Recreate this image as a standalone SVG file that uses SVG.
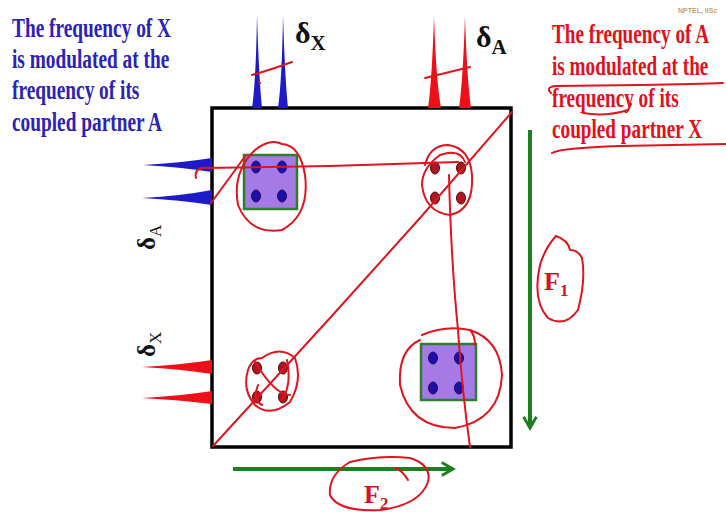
<svg xmlns="http://www.w3.org/2000/svg" width="726" height="512" viewBox="0 0 726 512">
<style>
.bt{font-family:"Liberation Serif",serif;font-weight:bold;font-size:27px;fill:#2b22b8}
.rt{font-family:"Liberation Serif",serif;font-weight:bold;font-size:27px;fill:#e3101c}
.lab{font-family:"Liberation Serif",serif;font-weight:bold;fill:#111}
.sub{font-weight:normal}
.flab{font-family:"Liberation Serif",serif;font-weight:bold;fill:#d8101c}
.ink{fill:none;stroke:#e0141e;stroke-width:2;stroke-linecap:round;stroke-linejoin:round}
.box{fill:#a57ae6;stroke:#2f7d2f;stroke-width:2.5}
.bdot{fill:#1d10a8;stroke:#2a0a60;stroke-width:1}
.rdot{fill:#b0141e;stroke:#4a0a0a;stroke-width:1}
.grn{stroke:#1e7f1e;stroke-width:4;fill:none}
</style>
<defs>
<marker id="ah" viewBox="0 0 10 10" refX="8" refY="5" markerWidth="4" markerHeight="4" orient="auto" markerUnits="strokeWidth">
<path d="M1 1 L8 5 L1 9" fill="none" stroke="#1e7f1e" stroke-width="1.8"/>
</marker>
</defs>
<rect width="726" height="512" fill="#ffffff"/>

<g id="text-left" transform="translate(12 0) scale(0.716 1)">
<text class="bt" x="0" y="37">The frequency of X</text>
<text class="bt" x="0" y="68">is modulated at the</text>
<text class="bt" x="0" y="99">frequency of its</text>
<text class="bt" x="0" y="131">coupled partner A</text>
</g>
<g id="text-right" transform="translate(552 0) scale(0.712 1)">
<text class="rt" x="0" y="43">The frequency of A</text>
<text class="rt" x="0" y="75">is modulated at the</text>
<text class="rt" x="0" y="107">frequency of its</text>
<text class="rt" x="0" y="138">coupled partner X</text>
</g>
<g id="logo">
<text x="678" y="13" font-family="Liberation Sans,sans-serif" font-size="7" font-weight="bold" fill="#c8a060">NPTEL, IISc</text>
</g>

<g id="spectrum-box">
<rect x="212" y="108" width="299" height="339" fill="none" stroke="#000" stroke-width="3.5"/>
</g>

<g id="top-peaks">
<path d="M252 108 Q256 80 257 15 Q259 80 262 108 Z" fill="#1d1ac8"/>
<path d="M278 108 Q282 80 283 15 Q285 80 288 108 Z" fill="#1d1ac8"/>
<path d="M428 108 Q432 80 434 16 Q436 80 441 108 Z" fill="#ee1018"/>
<path d="M459 108 Q463 80 465 16 Q467 80 471 108 Z" fill="#ee1018"/>
<text class="lab" x="295" y="43" font-size="30">δ<tspan font-size="21" dy="7">X</tspan></text>
<text class="lab" x="476" y="47" font-size="30">δ<tspan font-size="21" dy="7">A</tspan></text>
</g>

<g id="left-peaks">
<path d="M212 158 Q180 163 143 165 Q180 167 212 172 Z" fill="#1d1ac8"/>
<path d="M212 190 Q180 196 142 198 Q180 200 212 205 Z" fill="#1d1ac8"/>
<path d="M212 360 Q180 365 142 367 Q180 369 212 374 Z" fill="#ee1018"/>
<path d="M212 391 Q180 396 142 398 Q180 400 212 404 Z" fill="#ee1018"/>
<text class="lab" font-size="25" transform="translate(155 250) rotate(-90)">δ<tspan class="sub" font-size="17" dy="6">A</tspan></text>
<text class="lab" font-size="25" transform="translate(155 357) rotate(-90)">δ<tspan class="sub" font-size="17" dy="6">X</tspan></text>
</g>

<g id="cross-peak-top-left">
<rect class="box" x="244" y="155" width="53" height="54"/>
<ellipse class="bdot" cx="256" cy="167" rx="4.5" ry="6"/>
<ellipse class="bdot" cx="282" cy="167" rx="4.5" ry="6"/>
<ellipse class="bdot" cx="256" cy="196" rx="4.5" ry="6"/>
<ellipse class="bdot" cx="282" cy="196" rx="4.5" ry="6"/>
</g>
<g id="cross-peak-bottom-right">
<rect class="box" x="421" y="344" width="55" height="56"/>
<ellipse class="bdot" cx="433" cy="358" rx="4.5" ry="6"/>
<ellipse class="bdot" cx="459" cy="358" rx="4.5" ry="6"/>
<ellipse class="bdot" cx="433" cy="388" rx="4.5" ry="6"/>
<ellipse class="bdot" cx="459" cy="388" rx="4.5" ry="6"/>
</g>
<g id="diag-peak-top-right">
<ellipse class="rdot" cx="435" cy="168" rx="4.5" ry="6"/>
<ellipse class="rdot" cx="461" cy="168" rx="4.5" ry="6"/>
<ellipse class="rdot" cx="435" cy="198" rx="4.5" ry="6"/>
<ellipse class="rdot" cx="461" cy="198" rx="4.5" ry="6"/>
</g>
<g id="diag-peak-bottom-left">
<ellipse class="rdot" cx="257" cy="368" rx="4.5" ry="6"/>
<ellipse class="rdot" cx="283" cy="368" rx="4.5" ry="6"/>
<ellipse class="rdot" cx="257" cy="397" rx="4.5" ry="6"/>
<ellipse class="rdot" cx="283" cy="397" rx="4.5" ry="6"/>
</g>

<g id="connectors">
<line class="grn" x1="530" y1="130" x2="530" y2="428" marker-end="url(#ah)"/>
<line class="grn" x1="233" y1="469" x2="453" y2="469" marker-end="url(#ah)"/>
<text class="flab" x="544" y="290" font-size="26">F<tspan font-size="17" dy="6">1</tspan></text>
<text class="flab" x="364" y="503" font-size="26">F<tspan font-size="17" dy="6">2</tspan></text>
</g>

<g id="annotations">
<path class="ink" d="M213 446 L330 318 L420 218 L512 112" stroke-width="2.5"/>
<path class="ink" d="M196 178 Q194 170 202 168 L330 166 L458 162"/>
<path class="ink" d="M211 203 Q228 180 246 155"/>
<path class="ink" d="M255 150 Q270 138 282 144 Q300 145 305 175 Q310 215 282 230 Q250 235 238 205 Q232 172 255 150"/>
<path class="ink" d="M425 165 Q430 145 448 145 Q470 148 472 175 Q474 210 450 215 Q425 212 422 185 Q422 168 440 155 Q460 148 465 162"/>
<path class="ink" d="M449 175 Q451 260 458 330 Q462 390 470 447"/>
<path class="ink" d="M422 335 Q445 325 470 330 Q500 340 502 375 Q500 420 455 428 Q410 428 400 385 Q398 350 420 340 M470 330 Q475 335 475 345"/>
<path class="ink" d="M262 358 Q280 345 295 358 Q303 380 290 402 Q270 418 255 405 Q242 390 248 370 Q252 358 262 358 M255 362 Q275 395 290 395 M258 385 Q252 400 262 405 M287 360 Q292 385 282 400"/>
<path class="ink" d="M252 75 Q270 70 292 62 M259 82 L260 83"/>
<path class="ink" d="M425 78 L470 67"/>
<path class="ink" d="M556 236 Q545 248 540 265 Q532 300 548 318 Q565 328 578 310 Q586 280 582 258 Q578 250 570 250 Q568 240 556 236"/>
<path class="ink" d="M350 462 Q380 455 410 458 Q432 465 428 482 Q420 505 380 510 Q338 512 330 495 Q328 475 350 462 M395 468 Q402 470 408 480"/>
<path class="ink" d="M551 93 Q545 87 556 86 L640 85 Q700 84 723 83"/>
<path class="ink" d="M583 113 Q605 117 628 110 L631 104"/>
<path class="ink" d="M552 153 Q560 148 620 146 L726 144"/>
</g>
</svg>
